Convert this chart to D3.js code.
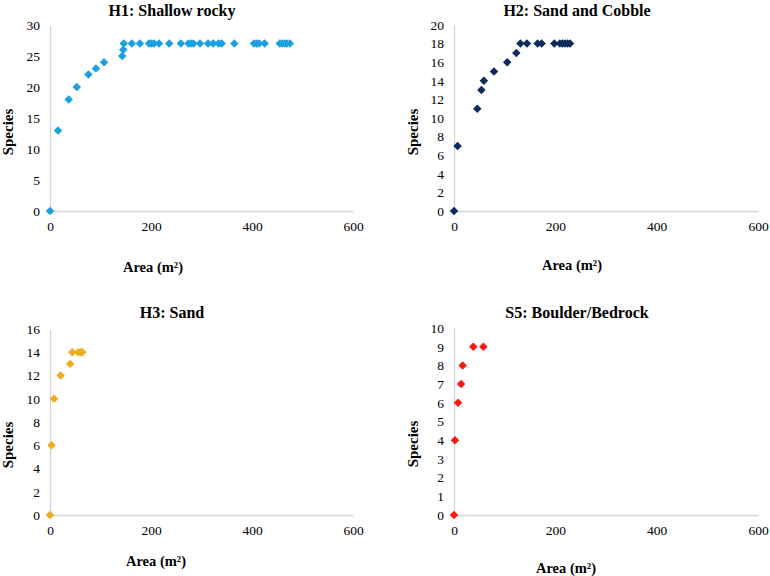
<!DOCTYPE html>
<html>
<head>
<meta charset="utf-8">
<script src="https://cdn.jsdelivr.net/npm/d3@7"></script>
<style>
  body { margin: 0; background: #fff; }
  svg { display: block; }
  .tick text { font-family: "Liberation Serif", "Times New Roman", serif; font-size: 13.5px; }
</style>
</head>
<body>
<svg id="chart" width="770" height="576"></svg>
<script>
// readings: area (m2) and species count
var h1Area = [0, 16, 37, 53, 76, 91, 107, 143, 145, 146, 162, 178, 196, 201, 206, 216, 236, 259, 274, 279, 284, 297, 313, 323, 334, 340, 365, 404, 409, 414, 425, 455, 460, 465, 469, 475];
var h1Species = [0, 13, 18, 20, 22, 23, 24, 25, 26, 27, 27, 27, 27, 27, 27, 27, 27, 27, 27, 27, 27, 27, 27, 27, 27, 27, 27, 27, 27, 27, 27, 27, 27, 27, 27, 27];

var h2Area = [0, 7, 46, 54, 59, 79, 105, 123, 131, 144, 165, 173, 198, 209, 214, 219, 224, 229];
var h2Species = [0, 7, 11, 13, 14, 15, 16, 17, 18, 18, 18, 18, 18, 18, 18, 18, 18, 18];

var h3Area = [0, 3, 8, 21, 40, 44, 56, 61, 64];
var h3Species = [0, 6, 10, 12, 13, 14, 14, 14, 14];

var s5Area = [0, 2, 8, 14, 17, 38, 58];
var s5Species = [0, 4, 6, 7, 8, 9, 9];

var titles = ['H1: Shallow rocky', 'H2: Sand and Cobble', 'H3: Sand', 'S5: Boulder/Bedrock'];
var colours = ['#1ba1e2', '#0e2b5c', '#f0ac1a', '#fa1a12'];
var yMax = [30, 20, 16, 10];
var yStep = [5, 2, 2, 1];
var xTicks = [0, 200, 400, 600];

var panels = [
  { area: h1Area, species: h1Species, x0: 50, x1: 353, yTop: 25, yBot: 211, titleX: 172, titleY: 16, xlabX: 153, xlabY: 272, ylabX: 13, ylabY: 132 },
  { area: h2Area, species: h2Species, x0: 454, x1: 758, yTop: 25, yBot: 211, titleX: 577, titleY: 16, xlabX: 572, xlabY: 270, ylabX: 418, ylabY: 132 },
  { area: h3Area, species: h3Species, x0: 50, x1: 353, yTop: 329, yBot: 515, titleX: 172, titleY: 318, xlabX: 156, xlabY: 566, ylabX: 13, ylabY: 445 },
  { area: s5Area, species: s5Species, x0: 454, x1: 758, yTop: 328, yBot: 515, titleX: 577, titleY: 318, xlabX: 566, xlabY: 573, ylabX: 418, ylabY: 444 }
];

var svg = d3.select('#chart');
var serif = '"Liberation Serif", "Times New Roman", serif';

panels.forEach(function(p, i) {
  var x = d3.scaleLinear().domain([0, 600]).range([p.x0, p.x1]);
  var y = d3.scaleLinear().domain([0, yMax[i]]).range([p.yBot, p.yTop]);
  var g = svg.append('g');

  var yAxis = g.append('g')
    .attr('transform', 'translate(' + p.x0 + ',0)')
    .call(d3.axisLeft(y).tickValues(d3.range(0, yMax[i] + yStep[i], yStep[i])).tickSize(0).tickPadding(10));

  var xAxis = g.append('g')
    .attr('transform', 'translate(0,' + p.yBot + ')')
    .call(d3.axisBottom(x).tickValues(xTicks).tickSize(0).tickPadding(10));

  [yAxis, xAxis].forEach(function(a) {
    a.select('.domain').attr('stroke', '#d4d4d4').attr('stroke-width', 1.3);
    a.selectAll('text').attr('fill', '#000');
  });

  g.selectAll('path.pt')
    .data(p.area.map(function(a, k) { return [a, p.species[k]]; }))
    .enter()
    .append('path')
    .attr('class', 'pt')
    .attr('d', d3.symbol().type(d3.symbolDiamond2).size(46))
    .attr('transform', function(d) { return 'translate(' + x(d[0]) + ',' + y(d[1]) + ')'; })
    .attr('fill', colours[i]);

  g.append('text')
    .attr('x', p.titleX)
    .attr('y', p.titleY)
    .attr('text-anchor', 'middle')
    .style('font-family', serif)
    .style('font-weight', 'bold')
    .style('font-size', '16px')
    .text(titles[i]);

  g.append('text')
    .attr('x', p.xlabX)
    .attr('y', p.xlabY)
    .attr('text-anchor', 'middle')
    .style('font-family', serif)
    .style('font-weight', 'bold')
    .style('font-size', '14.5px')
    .text('Area  (m²)');

  g.append('text')
    .attr('transform', 'translate(' + p.ylabX + ',' + p.ylabY + ') rotate(-90)')
    .attr('text-anchor', 'middle')
    .style('font-family', serif)
    .style('font-weight', 'bold')
    .style('font-size', '15px')
    .text('Species');
});
</script>
</body>
</html>
